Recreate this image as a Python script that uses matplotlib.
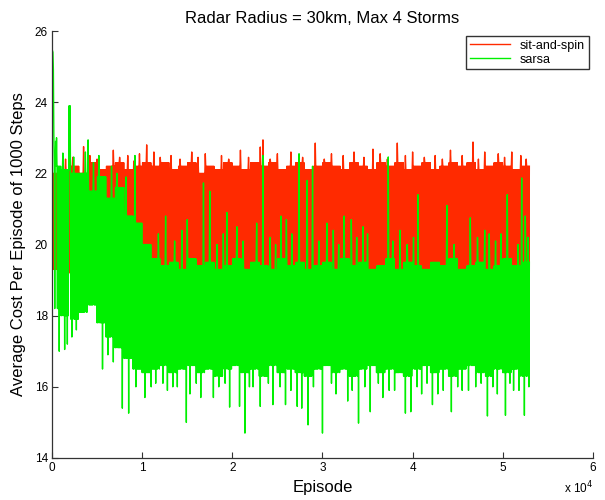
import numpy as np
import matplotlib
matplotlib.use("Agg")
import matplotlib.pyplot as plt

plt.rcParams["font.family"] = ["Liberation Sans", "DejaVu Sans"]
# keep every zig-zag of the dense runs
plt.rcParams["path.simplify"] = False

# Per-1000-episode envelope of each run (dense band low / high edge)
red_lo = [19.3, 19.2, 19.4, 19.3, 19.2, 19.3, 19.1, 19.2, 19.3, 19.1,
          19.2, 19.1, 19.3, 19.0, 19.2, 19.1, 19.3, 19.0, 19.2, 19.1,
          19.0, 19.2, 19.1, 19.3, 19.0, 19.1, 19.2, 19.0, 19.1, 19.3,
          19.2, 19.0, 19.1, 19.2, 19.0, 19.3, 19.1, 19.2, 19.0, 19.1,
          19.3, 19.2, 19.0, 19.1, 19.2, 19.1, 19.0, 19.3, 19.1, 19.2,
          19.0, 19.1, 19.2]
red_hi = [22.0, 22.1, 22.2, 22.0, 22.3, 22.1, 22.2, 22.3, 22.1, 22.2,
          22.3, 22.2, 22.3, 22.1, 22.2, 22.3, 22.0, 22.2, 22.1, 22.3,
          22.2, 22.1, 22.3, 22.2, 22.3, 22.1, 22.2, 22.3, 22.1, 22.2,
          22.3, 22.2, 22.1, 22.3, 22.2, 22.1, 22.3, 22.2, 22.3, 22.1,
          22.2, 22.3, 22.1, 22.2, 22.3, 22.2, 22.3, 22.1, 22.2, 22.3,
          22.2, 22.1, 22.2]
green_lo = [18.2, 18.0, 17.9, 18.1, 18.3, 17.8, 17.4, 17.1, 16.8, 16.5,
            16.4, 16.5, 16.6, 16.4, 16.5, 16.6, 16.4, 16.5, 16.3, 16.5,
            16.6, 16.4, 16.5, 16.3, 16.6, 16.4, 16.5, 16.4, 16.3, 16.5,
            16.6, 16.4, 16.5, 16.3, 16.5, 16.6, 16.4, 16.5, 16.4, 16.3,
            16.5, 16.6, 16.4, 16.5, 16.3, 16.5, 16.6, 16.4, 16.3, 16.5,
            16.4, 16.5, 16.3]
green_hi = [22.2, 22.1, 22.0, 22.0, 21.5, 21.9, 21.3, 21.6, 20.8, 20.6,
            20.0, 19.6, 19.4, 19.5, 19.3, 19.6, 19.4, 19.5, 19.3, 19.4,
            19.6, 19.3, 19.5, 19.4, 19.3, 19.6, 19.4, 19.5, 19.3, 19.4,
            19.5, 19.3, 19.6, 19.4, 19.5, 19.3, 19.4, 19.6, 19.3, 19.5,
            19.4, 19.3, 19.5, 19.4, 19.6, 19.3, 19.4, 19.5, 19.3, 19.4,
            19.6, 19.4, 19.5]

# Individual episodes that stick out of the band (episode, cost)
red_spikes = [(3500, 22.75), (6800, 22.65), (10500, 22.8), (11300, 22.6),
              (13200, 22.5), (15500, 22.6), (17000, 22.55), (18800, 22.5),
              (20900, 22.65), (23100, 22.74), (23400, 22.94), (25000, 22.55),
              (26500, 22.6), (29200, 22.85), (31000, 22.55), (33500, 22.6),
              (35600, 22.68), (36400, 22.55), (38300, 22.85), (40000, 22.6),
              (42500, 22.5), (44200, 22.65), (46700, 22.88), (48000, 22.6),
              (49500, 22.55), (51000, 22.6), (52000, 22.5),
              (1500, 22.4), (2300, 22.45), (4200, 22.5), (5000, 22.4),
              (7500, 22.45), (8400, 22.5), (9100, 22.35), (9700, 22.55),
              (12000, 22.45), (14200, 22.4), (16200, 22.45), (19600, 22.4),
              (21800, 22.45), (24200, 22.4), (27800, 22.45), (30200, 22.4),
              (32300, 22.5), (34600, 22.45), (37200, 22.4), (39200, 22.5),
              (41300, 22.45), (43300, 22.4), (45500, 22.5), (47300, 22.4),
              (50200, 22.45), (52600, 22.4)]
green_spikes_up = [(0, 25.45), (50, 25.45), (100, 25.4), (150, 24.9),
                   (200, 23.1), (400, 22.9), (500, 23.0),
                   (1200, 22.57), (1900, 23.9), (2000, 23.9), (2400, 22.46),
                   (3700, 22.6), (4000, 22.94), (4600, 22.3), (5200, 22.5),
                   (6600, 22.2), (7200, 22.0), (8200, 21.9), (9200, 22.5),
                   (12600, 20.8), (15000, 20.7), (16800, 21.73), (17500, 21.5),
                   (19400, 20.9), (20500, 20.5), (22300, 21.55), (23100, 20.5),
                   (23400, 22.5), (25400, 20.8), (26000, 20.7), (27200, 21.6),
                   (27400, 22.55), (28300, 21.8), (28900, 22.2), (30500, 20.6),
                   (32400, 20.8), (33200, 20.7), (34500, 20.5), (36200, 21.45),
                   (37300, 22.46), (38600, 20.4), (40600, 21.4), (41600, 21.1),
                   (42200, 21.9), (43800, 21.1), (45000, 20.4), (46400, 20.75),
                   (48500, 20.3), (50500, 21.4), (51200, 20.6), (52100, 21.87),
                   (52500, 20.8),
                   (11800, 20.3), (13600, 20.1), (14400, 20.4), (16000, 20.2),
                   (18300, 20.0), (19000, 20.3), (21200, 20.1), (22700, 20.6),
                   (24200, 20.2), (24800, 20.0), (26600, 20.3), (29600, 20.1),
                   (31200, 20.4), (31800, 20.0), (33800, 20.2), (35000, 20.3),
                   (37800, 20.1), (39400, 20.0), (40100, 20.2), (42800, 20.3),
                   (44600, 20.0), (47200, 20.2), (48000, 20.4), (49200, 20.1),
                   (49800, 20.3), (51700, 20.0), (52800, 20.2)]
green_spikes_down = [(800, 17.0), (1400, 17.05), (1700, 17.2), (2200, 17.4),
                     (2700, 17.6), (5600, 16.5), (6200, 16.9), (6800, 16.7),
                     (7800, 15.4), (8500, 15.26), (9300, 16.0), (10300, 15.7),
                     (11500, 16.1), (12800, 15.9), (13900, 16.0), (14900, 15.0),
                     (15300, 15.8), (16500, 15.7), (17900, 15.7), (19700, 15.43),
                     (20800, 15.45), (21400, 14.7), (22300, 16.0), (23100, 15.45),
                     (24500, 15.5), (25900, 15.5), (27200, 15.45), (27700, 15.4),
                     (28400, 14.93), (30000, 14.7), (31500, 15.8), (32800, 15.6),
                     (34000, 14.98), (35300, 15.3), (36700, 15.7), (38000, 15.9),
                     (39200, 15.26), (39800, 15.3), (41000, 15.8), (42200, 15.5),
                     (43400, 15.9), (44300, 15.3), (45500, 15.9), (47000, 16.0),
                     (48300, 15.18), (49400, 15.8), (50300, 15.2), (51200, 15.9),
                     (52400, 15.2),
                     (11000, 16.0), (12300, 16.1), (13400, 16.0), (16000, 16.1),
                     (18500, 16.0), (19200, 16.1), (21900, 16.0), (24000, 16.1),
                     (25300, 16.0), (26500, 15.9), (29000, 16.0), (31000, 16.1),
                     (33300, 15.9), (34700, 16.0), (36200, 16.1), (37400, 15.9),
                     (40500, 16.0), (41600, 16.1), (42800, 15.8), (45000, 16.0),
                     (46200, 15.9), (47600, 16.1), (48900, 16.0), (50800, 16.1),
                     (51800, 15.9), (52900, 16.0)]

step = 50  # episodes between plotted samples
per_bin = 1000 // step


def build_run(lo, hi, spikes):
    n = len(lo) * per_bin
    ep = np.arange(n) * step
    b = np.arange(n) // per_bin
    y = np.where(np.arange(n) % 2 == 0, np.array(lo)[b], np.array(hi)[b])
    for e, v in spikes:
        y[int(round(e / step))] = v
    return ep, y


ep_r, cost_r = build_run(red_lo, red_hi, red_spikes)
ep_g, cost_g = build_run(green_lo, green_hi, green_spikes_up + green_spikes_down)

fig = plt.figure(figsize=(6.05, 5.0), dpi=100)
ax = fig.add_axes([0.086, 0.084, 0.894, 0.854])

ax.plot(ep_r, cost_r, color="#ff2a00", linewidth=1.0, label="sit-and-spin")
ax.plot(ep_g, cost_g, color="#00f000", linewidth=1.0, label="sarsa")

ax.set_xlim(0, 60000)
ax.set_ylim(14, 26)
ax.set_xticks(np.arange(0, 60001, 10000))
ax.set_xticklabels([str(i) for i in range(7)])
ax.set_yticks(np.arange(14, 27, 2))

for side in ("top", "right"):
    ax.spines[side].set_visible(False)
for side in ("left", "bottom"):
    ax.spines[side].set_color("#333333")
    ax.spines[side].set_linewidth(0.9)
ax.tick_params(direction="in", length=4, width=0.8, color="#333333",
               labelsize=8.5, pad=3)

ax.set_title("Radar Radius = 30km, Max 4 Storms", fontsize=12, pad=6)
ax.set_xlabel("Episode", fontsize=12, labelpad=4)
ax.set_ylabel("Average Cost Per Episode of 1000 Steps", fontsize=12, labelpad=6)
ax.text(1.0, -0.07, r"x 10$^{4}$", transform=ax.transAxes, ha="right",
        va="center", fontsize=8.5)

leg = ax.legend(loc="upper right", bbox_to_anchor=(0.992, 0.988), fontsize=9,
                frameon=True, fancybox=False, borderaxespad=0,
                handlelength=3.2, labelspacing=0.15, borderpad=0.3)
leg.get_frame().set_edgecolor("black")
leg.get_frame().set_linewidth(1.0)
for line in leg.get_lines():
    line.set_linewidth(1.0)

fig.savefig("out.png", dpi=100)
